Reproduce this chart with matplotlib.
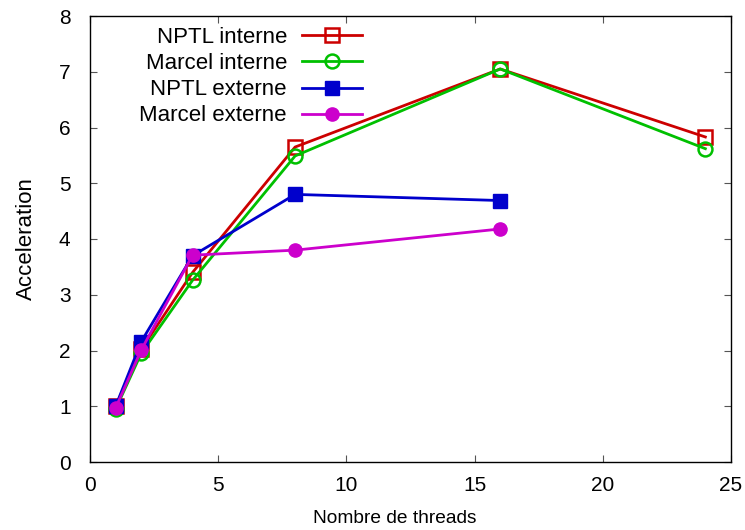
import matplotlib
matplotlib.use("Agg")
import matplotlib.pyplot as plt

# valeurs
threads_interne = [1, 2, 4, 8, 16, 24]
threads_externe = [1, 2, 4, 8, 16]

nptl_interne = [1.0, 2.02, 3.4, 5.65, 7.05, 5.83]
marcel_interne = [0.95, 1.95, 3.26, 5.49, 7.05, 5.62]
nptl_externe = [1.0, 2.16, 3.7, 4.8, 4.69]
marcel_externe = [0.97, 2.01, 3.71, 3.8, 4.18]

plt.rcParams['font.family'] = ['Liberation Sans', 'DejaVu Sans']
plt.rcParams['font.size'] = 15

fig = plt.figure(figsize=(7.45, 5.3), dpi=100)
ax = fig.add_axes([90 / 745, 1 - 462 / 530, (731 - 90) / 745, (462 - 16) / 530])

ax.plot(threads_interne, nptl_interne, color='#cc0000', lw=2, marker='s',
        ms=10, mfc='none', mew=1.8, label='NPTL interne')
ax.plot(threads_interne, marcel_interne, color='#00c000', lw=2, marker='o',
        ms=10, mfc='none', mew=1.8, label='Marcel interne')
ax.plot(threads_externe, nptl_externe, color='#0000cc', lw=2, marker='s',
        ms=10, label='NPTL externe')
ax.plot(threads_externe, marcel_externe, color='#cc00cc', lw=2, marker='o',
        ms=9.5, label='Marcel externe')

ax.set_xlim(0, 25)
ax.set_ylim(0, 8)
ax.set_xticks(range(0, 26, 5))
ax.set_yticks(range(0, 9))
ax.tick_params(direction='in', length=5, width=0.8, top=True, right=True,
               labelsize=15, color='#555555')
ax.tick_params(axis='x', pad=10)
ax.tick_params(axis='y', pad=14)
for s in ax.spines.values():
    s.set_linewidth(1)

ax.set_xlabel('Nombre de threads', fontsize=13.8, labelpad=11)
ax.xaxis.label.set_x(0.475)
ax.set_ylabel('Acceleration', fontsize=16, labelpad=16)

ax.legend(loc='upper right', bbox_to_anchor=((362 - 90) / 641, 0.975),
          frameon=False, markerfirst=False, handlelength=2.7,
          handletextpad=0.68, labelspacing=0.23, borderaxespad=0,
          borderpad=0, fontsize=16)

fig.savefig('out.png', dpi=100)
